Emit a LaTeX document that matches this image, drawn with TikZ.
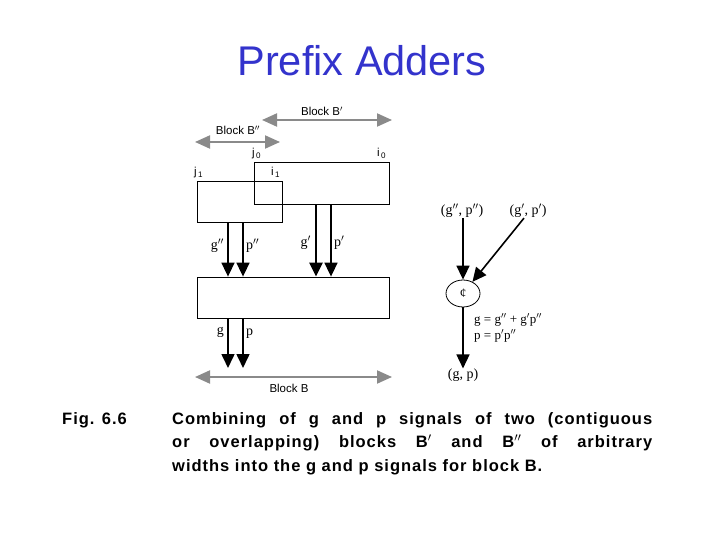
\documentclass[tikz,border=0pt]{standalone}
\usepackage{fontspec}
\setmainfont{Liberation Serif}
\setsansfont{Liberation Sans}
\newfontfamily\capfont[LetterSpace=6]{Liberation Sans}
\usepackage{xcolor}
\usetikzlibrary{arrows.meta,shapes.geometric}
\definecolor{titleblue}{RGB}{51,51,204}
\definecolor{spangray}{RGB}{138,138,138}

\begin{document}
\begin{tikzpicture}[x=1pt,y=-1pt,
    blk/.style={draw, line width=0.8pt, inner sep=0pt},
    sig/.style={line width=1.6pt, -{Triangle[length=14pt,width=13pt]}},
    span/.style={spangray, line width=2pt, {Triangle[length=15pt,width=13pt]}-{Triangle[length=15pt,width=13pt]}},
    lbl/.style={font=\sffamily\fontsize{11.5}{13}\selectfont, inner sep=0pt},
    sym/.style={font=\fontsize{14}{15}\selectfont, inner sep=0pt}]
                    \useasboundingbox (0,0) rectangle (720,540);
                    % Title
                    \node[anchor=base, text=titleblue, font=\sffamily\fontsize{41.5}{48}\selectfont] (title) at (362,76) {Prefix Adders};
                    % Block spans
                    \coordinate (bpL) at (262,120); \coordinate (bpR) at (392,120);
                    \coordinate (bppL) at (195,142); \coordinate (bppR) at (280,142);
                    \coordinate (bL) at (195,377); \coordinate (bR) at (392,377);
                    \draw[span] (bpL) -- (bpR);
                    \draw[span] (bppL) -- (bppR);
                    \draw[span] (bL) -- (bR);
                    \node[lbl, anchor=base] (bpText) at (322,116) {Block B$'$};
                    \node[lbl, anchor=base] (bppText) at (238,135) {Block B$''$};
                    \node[lbl, anchor=base] (bText) at (289,392) {Block B};
                    % Index labels
                    \node[lbl, anchor=base west] (j0) at (252,157) {j\textsubscript{\,0}};
                    \node[lbl, anchor=base west] (i0) at (377,157) {i\textsubscript{\,0}};
                    \node[lbl, anchor=base west] (j1) at (194,176) {j\textsubscript{\,1}};
                    \node[lbl, anchor=base west] (i1) at (271,176) {i\textsubscript{\,1}};
                    % Blocks
                    \node[blk, minimum width=135pt, minimum height=42pt] (bp) at (321.5,183) {};
                    \node[blk, minimum width=85pt, minimum height=41pt] (bpp) at (239.5,201.5) {};
                    \node[blk, minimum width=192pt, minimum height=41pt] (bb) at (293,297.5) {};
                    % Signal arrows
                    \coordinate (gpp) at (228,0); \coordinate (ppp) at (243,0);
                    \coordinate (gp) at (316,0); \coordinate (pp) at (331,0);
                    \draw[sig] (bpp.south -| gpp) -- (bb.north -| gpp);
                    \draw[sig] (bpp.south -| ppp) -- (bb.north -| ppp);
                    \draw[sig, line width=2.5pt] (bp.south -| gp) -- (bb.north -| gp);
                    \draw[sig] (bp.south -| pp) -- (bb.north -| pp);
                    \draw[sig] (bb.south -| gpp) -- ([yshift=9pt]bL -| gpp);
                    \draw[sig] (bb.south -| ppp) -- ([yshift=9pt]bL -| ppp);
                    \node[sym, anchor=east] (gppText) at (224,246) {g$''$};
                    \node[sym, anchor=west] (pppText) at (246,246) {p$''$};
                    \node[sym, anchor=east] (gpText) at (311,243) {g$'$};
                    \node[sym, anchor=west] (ppText) at (334,243) {p$'$};
                    \node[sym, anchor=east] (gText) at (224,332) {g};
                    \node[sym, anchor=west] (pText) at (246,334) {p};
                    % Combining cell
                    \node[draw, ellipse, line width=0.8pt, minimum width=34pt, minimum height=27pt, inner sep=0pt, font=\fontsize{13}{14}\selectfont] (comb) at (463,293.5) {¢};
                    \node[sym] (inpp) at (462,211) {(g$''$, p$''$)};
                    \node[sym] (inp) at (528,211) {(g$'$, p$'$)};
                    \node[sym] (outp) at (463,375) {(g, p)};
                    \draw[sig] (inpp.south -| comb) -- (comb);
                    \draw[sig] ([xshift=-4pt]inp.south) -- (comb);
                    \draw[sig] (comb) -- (outp);
                    \node[anchor=base west, inner sep=0pt, font=\fontsize{13}{13}\selectfont] (eqg) at (474,323) {g = g$''$ + g$'$p$''$};
                    \node[anchor=base west, inner sep=0pt, font=\fontsize{13}{13}\selectfont] (eqp) at (474,339) {p = p$'$p$''$};
                    % Caption
                    \node[anchor=north west, inner sep=0pt, font=\capfont\bfseries\fontsize{16.5}{23.5}\selectfont] (fig) at (62,412) {Fig. 6.6};
                    \node[anchor=north west, inner sep=0pt, text width=480pt, align=justify, font=\capfont\bfseries\fontsize{16.5}{23.5}\selectfont] (caption) at (172,412) {Combining of g and p signals of two (contiguous\linebreak or overlapping) blocks B$'$ and B$''$ of arbitrary\linebreak widths into the g and p signals for block B.};
                \end{tikzpicture}
\end{document}
